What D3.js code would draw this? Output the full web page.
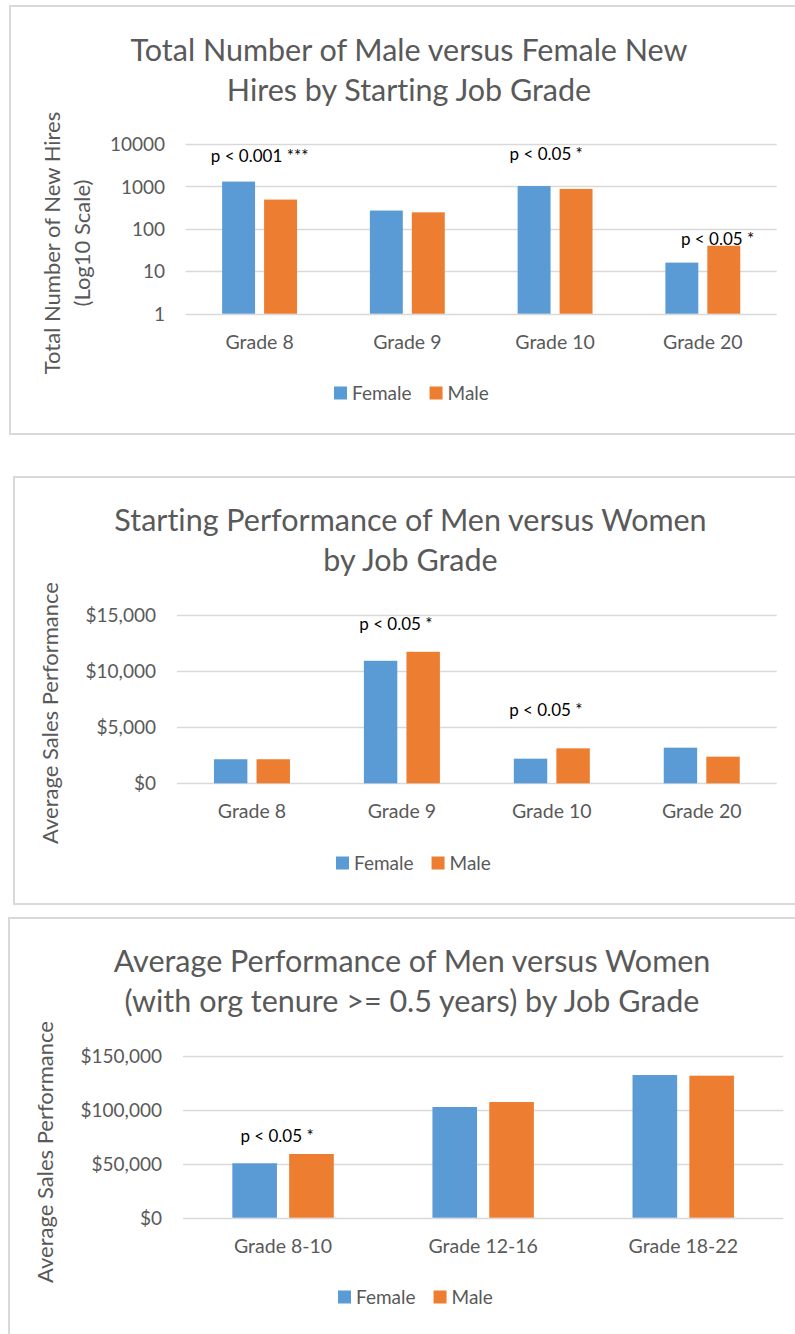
<!DOCTYPE html>
<html>
<head>
<meta charset="utf-8">
<script src="https://cdn.jsdelivr.net/npm/d3@7"></script>
<style>
  html, body { margin: 0; padding: 0; background: #fff; }
  svg { display: block; font-family: Lato, "Open Sans", sans-serif; font-variant-ligatures: none; font-feature-settings: "liga" 0, "clig" 0; }
</style>
</head>
<body>
<svg id="chart" width="795" height="1334"></svg>
<script>
// ---------- DATA ----------
const series = ["Female", "Male"];

// Chart 1: new hires (log scale)
const hiresTitle = ["Total Number of Male versus Female New", "Hires by Starting Job Grade"];
const hiresYTitle = ["Total Number of New Hires", "(Log10 Scale)"];
const hiresCategories = ["Grade 8", "Grade 9", "Grade 10", "Grade 20"];
const hiresFemale = [1300, 270, 1020, 16];
const hiresMale = [490, 245, 875, 40];
const hiresTicks = [1, 10, 100, 1000, 10000];
const hiresNotes = [
  { cat: "Grade 8", text: "p < 0.001 ***", at: 3800, shift: 0 },
  { cat: "Grade 10", text: "p < 0.05 *", at: 4200, shift: -0.06 },
  { cat: "Grade 20", text: "p < 0.05 *", at: 42, shift: 0.1 }
];

// Chart 2: starting performance
const startTitle = ["Starting Performance of Men versus Women", "by Job Grade"];
const startYTitle = ["Average Sales Performance"];
const startCategories = ["Grade 8", "Grade 9", "Grade 10", "Grade 20"];
const startFemale = [2140, 10900, 2190, 3170];
const startMale = [2140, 11700, 3110, 2370];
const startTicks = [0, 5000, 10000, 15000];
const startNotes = [
  { cat: "Grade 9", text: "p < 0.05 *", at: 13640, shift: -0.04 },
  { cat: "Grade 10", text: "p < 0.05 *", at: 5990, shift: -0.04 }
];

// Chart 3: average performance (tenure >= 0.5 years)
const avgTitle = ["Average Performance of Men versus Women", "(with org tenure >= 0.5 years) by Job Grade"];
const avgYTitle = ["Average Sales Performance"];
const avgCategories = ["Grade 8-10", "Grade 12-16", "Grade 18-22"];
const avgFemale = [50400, 102500, 132100];
const avgMale = [59000, 107100, 131500];
const avgTicks = [0, 50000, 100000, 150000];
const avgNotes = [
  { cat: "Grade 8-10", text: "p < 0.05 *", at: 70400, shift: -0.03 }
];

// ---------- STYLE ----------
const colors = { Female: "#5B9BD5", Male: "#ED7D31" };
const gridColor = "#D9D9D9";
const textColor = "#595959";

const svg = d3.select("#chart");
svg.append("rect").attr("width", 795).attr("height", 1334).attr("fill", "#fff");

const moneyFmt = v => "$" + d3.format(",")(v);

function drawChart(cfg) {
  const g = svg.append("g");
  // panel border
  g.append("rect")
    .attr("x", cfg.box.x).attr("y", cfg.box.y)
    .attr("width", cfg.box.w).attr("height", cfg.box.h)
    .attr("fill", "#fff").attr("stroke", gridColor).attr("stroke-width", 2);

  // title
  const title = g.append("text")
    .attr("x", cfg.titleX).attr("y", cfg.titleY)
    .attr("text-anchor", "middle")
    .attr("fill", textColor)
    .style("font-size", "30.5px");
  cfg.title.forEach((line, i) => {
    title.append("tspan").attr("x", cfg.titleX).attr("dy", i === 0 ? 0 : 40).text(line);
  });

  const x = d3.scaleBand().domain(cfg.categories).range([cfg.plot.x0, cfg.plot.x1]).padding(0);
  const xs = d3.scaleBand().domain(series).range([0, x.bandwidth()])
    .paddingInner(0.215).paddingOuter(0.868);
  const y = cfg.y;

  // gridlines
  g.append("g").selectAll("line").data(cfg.ticks).join("line")
    .attr("x1", cfg.plot.x0).attr("x2", cfg.plot.x1)
    .attr("y1", d => Math.round(y(d)) + 0.5).attr("y2", d => Math.round(y(d)) + 0.5)
    .attr("stroke", gridColor).attr("stroke-width", 1.5);

  // y axis labels via d3 axis
  const yAxis = d3.axisLeft(y).tickValues(cfg.ticks).tickFormat(cfg.fmt).tickSize(0).tickPadding(0);
  const ya = g.append("g").attr("transform", `translate(${cfg.tickRight},0)`).call(yAxis);
  ya.select(".domain").remove();
  ya.selectAll("text").attr("fill", textColor).style("font-size", "19px")
    .style("font-family", "Lato, sans-serif").attr("dy", "0.35em");

  // bars
  const rows = cfg.categories.map((c, i) => ({ cat: c, Female: cfg.female[i], Male: cfg.male[i] }));
  const base = y.range()[0];
  const groups = g.append("g").selectAll("g").data(rows).join("g")
    .attr("transform", d => `translate(${x(d.cat)},0)`);
  groups.selectAll("rect").data(d => series.map(s => ({ s, v: d[s] }))).join("rect")
    .attr("x", d => xs(d.s)).attr("width", xs.bandwidth())
    .attr("y", d => y(d.v)).attr("height", d => base - y(d.v))
    .attr("fill", d => colors[d.s]);

  // x axis labels
  const xAxis = d3.axisBottom(x).tickSize(0).tickPadding(0);
  const xa = g.append("g").attr("transform", `translate(0,${base + 28})`).call(xAxis);
  xa.select(".domain").remove();
  xa.selectAll("text").attr("fill", textColor).style("font-size", "19.5px")
    .style("font-family", "Lato, sans-serif").attr("dy", "0.35em");

  // annotations
  g.append("g").selectAll("text").data(cfg.notes).join("text")
    .attr("x", d => x(d.cat) + x.bandwidth() * (0.5 + d.shift))
    .attr("y", d => y(d.at))
    .attr("text-anchor", "middle").attr("fill", "#000")
    .style("font-size", "17px")
    .text(d => d.text);

  // y title (rotated)
  const yt = g.append("text")
    .attr("transform", `translate(${cfg.yTitleX},${cfg.yTitleY}) rotate(-90)`)
    .attr("text-anchor", "middle").attr("fill", textColor).style("font-size", "22px");
  cfg.yTitle.forEach((line, i) => {
    yt.append("tspan").attr("x", 0).attr("y", 0).attr("dy", (i * 30) + 8).text(line);
  });

  // legend
  const lg = g.append("g").attr("transform", `translate(${cfg.legendX},${cfg.legendY})`);
  let off = 0;
  series.forEach(s => {
    const it = lg.append("g").attr("transform", `translate(${off},0)`);
    it.append("rect").attr("x", 0).attr("y", -6.5).attr("width", 13).attr("height", 13).attr("fill", colors[s]);
    const t = it.append("text").attr("x", 18).attr("y", 0).attr("dy", "0.35em")
      .attr("fill", textColor).style("font-size", "19px").text(s);
    off += 18 + t.node().getComputedTextLength() + 18;
  });
}

drawChart({
  box: { x: 10, y: 6, w: 800, h: 428 },
  title: hiresTitle, titleX: 409, titleY: 61,
  categories: hiresCategories, female: hiresFemale, male: hiresMale,
  ticks: hiresTicks,
  y: d3.scaleLog().domain([1, 10000]).range([313.7, 144]),
  fmt: d3.format("d"),
  plot: { x0: 185.7, x1: 776.7 },
  tickRight: 165,
  notes: hiresNotes,
  yTitle: hiresYTitle, yTitleX: 52, yTitleY: 243,
  legendX: 334, legendY: 393
});

drawChart({
  box: { x: 14, y: 477, w: 800, h: 427 },
  title: startTitle, titleX: 410.5, titleY: 531,
  categories: startCategories, female: startFemale, male: startMale,
  ticks: startTicks,
  y: d3.scaleLinear().domain([0, 15000]).range([783.3, 614.7]),
  fmt: moneyFmt,
  plot: { x0: 177, x1: 776.7 },
  tickRight: 156,
  notes: startNotes,
  yTitle: startYTitle, yTitleX: 50, yTitleY: 713,
  legendX: 336, legendY: 863
});

drawChart({
  box: { x: 9, y: 918, w: 800, h: 500 },
  title: avgTitle, titleX: 412, titleY: 972,
  categories: avgCategories, female: avgFemale, male: avgMale,
  ticks: avgTicks,
  y: d3.scaleLinear().domain([0, 150000]).range([1217.7, 1055.7]),
  fmt: moneyFmt,
  plot: { x0: 183, x1: 783.3 },
  tickRight: 162,
  notes: avgNotes,
  yTitle: avgYTitle, yTitleX: 45, yTitleY: 1152,
  legendX: 338, legendY: 1297
});
</script>
</body>
</html>
